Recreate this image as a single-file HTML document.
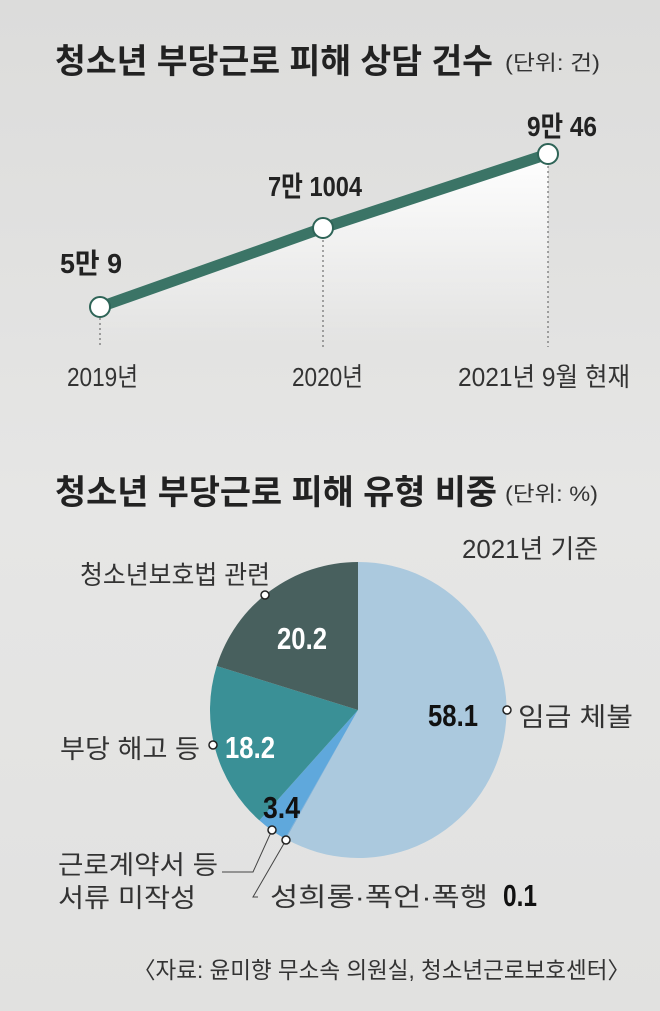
<!DOCTYPE html>
<html><head><meta charset="utf-8"><style>
html,body{margin:0;padding:0;background:#e3e3e2}
svg{display:block}
text{font-family:"Liberation Sans","Noto Sans CJK KR",sans-serif}
</style></head><body>
<svg width="660" height="1011" viewBox="0 0 660 1011" xmlns="http://www.w3.org/2000/svg">
<defs>
<linearGradient id="bg" x1="0" y1="0" x2="0" y2="1"><stop offset="0" stop-color="#dcdcdb"/><stop offset="0.5" stop-color="#e6e6e5"/><stop offset="1" stop-color="#e1e1e0"/></linearGradient>
<linearGradient id="fill" x1="0" y1="0" x2="0" y2="1"><stop offset="0" stop-color="#ffffff"/><stop offset="1" stop-color="#ffffff" stop-opacity="0"/></linearGradient>
</defs>
<rect width="660" height="1011" fill="url(#bg)"/>
<text x="55" y="73" font-size="34" font-weight="bold" fill="#222" textLength="438" lengthAdjust="spacingAndGlyphs">청소년 부당근로 피해 상담 건수</text>
<text x="505" y="70" font-size="21" fill="#333" textLength="95" lengthAdjust="spacingAndGlyphs">(단위: 건)</text>
<polygon points="100,307 323,228 548,154 548,345 100,345" fill="url(#fill)"/>
<g stroke="#555" stroke-width="1" stroke-dasharray="2,3">
<line x1="100" y1="318" x2="100" y2="347"/><line x1="323" y1="240" x2="323" y2="347"/><line x1="548" y1="166" x2="548" y2="347"/></g>
<polyline points="100,307 323,228 548,154" fill="none" stroke="#3b7466" stroke-width="11"/>
<g fill="#fff" stroke="#2e6457" stroke-width="2"><circle cx="100" cy="307" r="10"/><circle cx="323" cy="228" r="10"/><circle cx="548" cy="154" r="10"/></g>
<g font-size="28" font-weight="bold" fill="#222">
<text x="60" y="273" textLength="62" lengthAdjust="spacingAndGlyphs">5만 9</text>
<text x="268" y="196" textLength="94" lengthAdjust="spacingAndGlyphs">7만 1004</text>
<text x="527" y="136" textLength="70" lengthAdjust="spacingAndGlyphs">9만 46</text></g>
<g font-size="26" fill="#333">
<text x="67" y="386" textLength="71" lengthAdjust="spacingAndGlyphs">2019년</text>
<text x="292" y="386" textLength="71" lengthAdjust="spacingAndGlyphs">2020년</text>
<text x="458" y="386" textLength="172" lengthAdjust="spacingAndGlyphs">2021년 9월 현재</text></g>
<text x="55" y="504" font-size="34" font-weight="bold" fill="#222" textLength="442" lengthAdjust="spacingAndGlyphs">청소년 부당근로 피해 유형 비중</text>
<text x="505" y="501" font-size="21" fill="#333" textLength="93" lengthAdjust="spacingAndGlyphs">(단위: %)</text>
<text x="462" y="558" font-size="26" fill="#333" textLength="136" lengthAdjust="spacingAndGlyphs">2021년 기준</text>
<path d="M358,710 L358,562 A148,148 0 1 1 286,839 Z" fill="#abc9de"/>
<path d="M358,710 L286,839 A148,148 0 0 1 285,838.8 Z" fill="#7fb0d8"/>
<path d="M358,710 L285,838.8 A148,148 0 0 1 259.4,820.4 Z" fill="#5fa8dc"/>
<path d="M358,710 L259.4,820.4 A148,148 0 0 1 216.7,666 Z" fill="#3a9096"/>
<path d="M358,710 L216.7,666 A148,148 0 0 1 358,562 Z" fill="#48605e"/>
<g stroke="#444" stroke-width="1" fill="none">
<polyline points="272,830 253,872 222,872"/><polyline points="286,840 253,897 258,897"/></g>
<g fill="#fff" stroke="#222" stroke-width="1.5">
<circle cx="265" cy="595" r="4"/><circle cx="507" cy="710" r="4"/><circle cx="213" cy="745" r="4"/><circle cx="272" cy="830" r="4"/><circle cx="286" cy="840" r="4"/></g>
<text x="277" y="649" font-size="31" font-weight="bold" fill="#fff" textLength="50" lengthAdjust="spacingAndGlyphs">20.2</text>
<text x="225" y="758" font-size="31" font-weight="bold" fill="#fff" textLength="50" lengthAdjust="spacingAndGlyphs">18.2</text>
<text x="428" y="726" font-size="31" font-weight="bold" fill="#111" textLength="50" lengthAdjust="spacingAndGlyphs">58.1</text>
<text x="263" y="818" font-size="31" font-weight="bold" fill="#111" textLength="37" lengthAdjust="spacingAndGlyphs">3.4</text>
<text x="503" y="906" font-size="31" font-weight="bold" fill="#111" textLength="34" lengthAdjust="spacingAndGlyphs">0.1</text>
<g font-size="26" fill="#333">
<text x="80" y="584" textLength="190" lengthAdjust="spacingAndGlyphs">청소년보호법 관련</text>
<text x="518" y="726" textLength="115" lengthAdjust="spacingAndGlyphs">임금 체불</text>
<text x="60" y="758" textLength="140" lengthAdjust="spacingAndGlyphs">부당 해고 등</text>
<text x="58" y="874" textLength="160" lengthAdjust="spacingAndGlyphs">근로계약서 등</text>
<text x="58" y="907" textLength="138" lengthAdjust="spacingAndGlyphs">서류 미작성</text>
<text x="270" y="906" textLength="218" lengthAdjust="spacingAndGlyphs">성희롱·폭언·폭행</text>
<text x="133" y="978" font-size="23" textLength="497" lengthAdjust="spacingAndGlyphs">〈자료: 윤미향 무소속 의원실, 청소년근로보호센터〉</text></g>
</svg>
</body></html>
